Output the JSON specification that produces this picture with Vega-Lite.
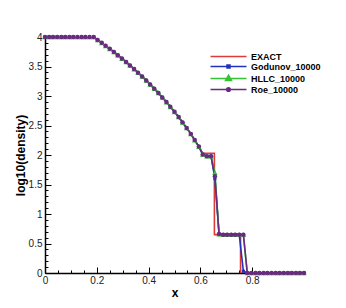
{
  "$schema": "https://vega.github.io/schema/vega-lite/v6.json",
  "width": 259,
  "height": 236,
  "autosize": {"type": "none"},
  "padding": {"left": 45, "top": 37, "right": 42, "bottom": 35},
  "background": "white",
  "config": {
    "view": {"stroke": null},
    "font": "Liberation Sans",
    "axis": {"grid": false, "domainColor": "black", "domainWidth": 1.5, "tickColor": "black", "tickWidth": 1, "labelFont": "Liberation Sans", "labelFontSize": 10, "labelColor": "#222", "titleFont": "Liberation Sans", "titleFontWeight": "bold", "titleFontSize": 12, "titleColor": "black"}
  },
  "data": {"values": [
    {"s":"EXACT","x":0,"y":4},{"s":"EXACT","x":0.1875,"y":4},{"s":"EXACT","x":0.203,"y":3.951},{"s":"EXACT","x":0.219,"y":3.902},{"s":"EXACT","x":0.234,"y":3.851},{"s":"EXACT","x":0.25,"y":3.799},{"s":"EXACT","x":0.266,"y":3.746},{"s":"EXACT","x":0.281,"y":3.691},{"s":"EXACT","x":0.297,"y":3.635},{"s":"EXACT","x":0.313,"y":3.577},{"s":"EXACT","x":0.328,"y":3.518},{"s":"EXACT","x":0.344,"y":3.457},{"s":"EXACT","x":0.359,"y":3.395},{"s":"EXACT","x":0.375,"y":3.331},{"s":"EXACT","x":0.391,"y":3.264},{"s":"EXACT","x":0.406,"y":3.196},{"s":"EXACT","x":0.422,"y":3.125},{"s":"EXACT","x":0.438,"y":3.052},{"s":"EXACT","x":0.453,"y":2.976},{"s":"EXACT","x":0.469,"y":2.898},{"s":"EXACT","x":0.484,"y":2.817},{"s":"EXACT","x":0.5,"y":2.733},{"s":"EXACT","x":0.516,"y":2.645},{"s":"EXACT","x":0.531,"y":2.553},{"s":"EXACT","x":0.547,"y":2.458},{"s":"EXACT","x":0.563,"y":2.358},{"s":"EXACT","x":0.578,"y":2.253},{"s":"EXACT","x":0.594,"y":2.143},{"s":"EXACT","x":0.609,"y":2.03},{"s":"EXACT","x":0.654,"y":2.03},{"s":"EXACT","x":0.6541,"y":0.65},{"s":"EXACT","x":0.755,"y":0.65},{"s":"EXACT","x":0.7551,"y":0},{"s":"EXACT","x":1,"y":0},

    {"s":"Godunov_10000","x":0,"y":4},{"s":"Godunov_10000","x":0.016,"y":4},{"s":"Godunov_10000","x":0.031,"y":4},{"s":"Godunov_10000","x":0.047,"y":4},{"s":"Godunov_10000","x":0.063,"y":4},{"s":"Godunov_10000","x":0.078,"y":4},{"s":"Godunov_10000","x":0.094,"y":4},{"s":"Godunov_10000","x":0.109,"y":4},{"s":"Godunov_10000","x":0.125,"y":4},{"s":"Godunov_10000","x":0.141,"y":4},{"s":"Godunov_10000","x":0.156,"y":4},{"s":"Godunov_10000","x":0.172,"y":4},{"s":"Godunov_10000","x":0.188,"y":4},{"s":"Godunov_10000","x":0.203,"y":3.951},{"s":"Godunov_10000","x":0.219,"y":3.902},{"s":"Godunov_10000","x":0.234,"y":3.851},{"s":"Godunov_10000","x":0.25,"y":3.799},{"s":"Godunov_10000","x":0.266,"y":3.746},{"s":"Godunov_10000","x":0.281,"y":3.691},{"s":"Godunov_10000","x":0.297,"y":3.635},{"s":"Godunov_10000","x":0.313,"y":3.577},{"s":"Godunov_10000","x":0.328,"y":3.518},{"s":"Godunov_10000","x":0.344,"y":3.457},{"s":"Godunov_10000","x":0.359,"y":3.395},{"s":"Godunov_10000","x":0.375,"y":3.331},{"s":"Godunov_10000","x":0.391,"y":3.264},{"s":"Godunov_10000","x":0.406,"y":3.196},{"s":"Godunov_10000","x":0.422,"y":3.125},{"s":"Godunov_10000","x":0.438,"y":3.052},{"s":"Godunov_10000","x":0.453,"y":2.976},{"s":"Godunov_10000","x":0.469,"y":2.898},{"s":"Godunov_10000","x":0.484,"y":2.817},{"s":"Godunov_10000","x":0.5,"y":2.733},{"s":"Godunov_10000","x":0.516,"y":2.645},{"s":"Godunov_10000","x":0.531,"y":2.553},{"s":"Godunov_10000","x":0.547,"y":2.458},{"s":"Godunov_10000","x":0.563,"y":2.358},{"s":"Godunov_10000","x":0.578,"y":2.253},{"s":"Godunov_10000","x":0.594,"y":2.143},{"s":"Godunov_10000","x":0.609,"y":2.01},{"s":"Godunov_10000","x":0.625,"y":1.98},{"s":"Godunov_10000","x":0.641,"y":1.98},{"s":"Godunov_10000","x":0.656,"y":1.6},{"s":"Godunov_10000","x":0.672,"y":0.66},{"s":"Godunov_10000","x":0.688,"y":0.65},{"s":"Godunov_10000","x":0.703,"y":0.65},{"s":"Godunov_10000","x":0.719,"y":0.65},{"s":"Godunov_10000","x":0.734,"y":0.65},{"s":"Godunov_10000","x":0.75,"y":0.65},{"s":"Godunov_10000","x":0.766,"y":0.03},{"s":"Godunov_10000","x":0.781,"y":0},{"s":"Godunov_10000","x":0.797,"y":0},{"s":"Godunov_10000","x":0.813,"y":0},{"s":"Godunov_10000","x":0.828,"y":0},{"s":"Godunov_10000","x":0.844,"y":0},{"s":"Godunov_10000","x":0.859,"y":0},{"s":"Godunov_10000","x":0.875,"y":0},{"s":"Godunov_10000","x":0.891,"y":0},{"s":"Godunov_10000","x":0.906,"y":0},{"s":"Godunov_10000","x":0.922,"y":0},{"s":"Godunov_10000","x":0.938,"y":0},{"s":"Godunov_10000","x":0.953,"y":0},{"s":"Godunov_10000","x":0.969,"y":0},{"s":"Godunov_10000","x":0.984,"y":0},{"s":"Godunov_10000","x":1,"y":0},

    {"s":"HLLC_10000","x":0,"y":4},{"s":"HLLC_10000","x":0.016,"y":4},{"s":"HLLC_10000","x":0.031,"y":4},{"s":"HLLC_10000","x":0.047,"y":4},{"s":"HLLC_10000","x":0.063,"y":4},{"s":"HLLC_10000","x":0.078,"y":4},{"s":"HLLC_10000","x":0.094,"y":4},{"s":"HLLC_10000","x":0.109,"y":4},{"s":"HLLC_10000","x":0.125,"y":4},{"s":"HLLC_10000","x":0.141,"y":4},{"s":"HLLC_10000","x":0.156,"y":4},{"s":"HLLC_10000","x":0.172,"y":4},{"s":"HLLC_10000","x":0.188,"y":4},{"s":"HLLC_10000","x":0.203,"y":3.951},{"s":"HLLC_10000","x":0.219,"y":3.902},{"s":"HLLC_10000","x":0.234,"y":3.851},{"s":"HLLC_10000","x":0.25,"y":3.799},{"s":"HLLC_10000","x":0.266,"y":3.746},{"s":"HLLC_10000","x":0.281,"y":3.691},{"s":"HLLC_10000","x":0.297,"y":3.635},{"s":"HLLC_10000","x":0.313,"y":3.577},{"s":"HLLC_10000","x":0.328,"y":3.518},{"s":"HLLC_10000","x":0.344,"y":3.457},{"s":"HLLC_10000","x":0.359,"y":3.395},{"s":"HLLC_10000","x":0.375,"y":3.331},{"s":"HLLC_10000","x":0.391,"y":3.264},{"s":"HLLC_10000","x":0.406,"y":3.196},{"s":"HLLC_10000","x":0.422,"y":3.125},{"s":"HLLC_10000","x":0.438,"y":3.052},{"s":"HLLC_10000","x":0.453,"y":2.976},{"s":"HLLC_10000","x":0.469,"y":2.898},{"s":"HLLC_10000","x":0.484,"y":2.817},{"s":"HLLC_10000","x":0.5,"y":2.733},{"s":"HLLC_10000","x":0.516,"y":2.645},{"s":"HLLC_10000","x":0.531,"y":2.553},{"s":"HLLC_10000","x":0.547,"y":2.458},{"s":"HLLC_10000","x":0.563,"y":2.358},{"s":"HLLC_10000","x":0.578,"y":2.253},{"s":"HLLC_10000","x":0.594,"y":2.143},{"s":"HLLC_10000","x":0.609,"y":2.01},{"s":"HLLC_10000","x":0.625,"y":1.98},{"s":"HLLC_10000","x":0.641,"y":1.98},{"s":"HLLC_10000","x":0.656,"y":1.7},{"s":"HLLC_10000","x":0.672,"y":0.66},{"s":"HLLC_10000","x":0.688,"y":0.65},{"s":"HLLC_10000","x":0.703,"y":0.65},{"s":"HLLC_10000","x":0.719,"y":0.65},{"s":"HLLC_10000","x":0.734,"y":0.65},{"s":"HLLC_10000","x":0.75,"y":0.65},{"s":"HLLC_10000","x":0.766,"y":0.65},{"s":"HLLC_10000","x":0.781,"y":0},{"s":"HLLC_10000","x":0.797,"y":0},{"s":"HLLC_10000","x":0.813,"y":0},{"s":"HLLC_10000","x":0.828,"y":0},{"s":"HLLC_10000","x":0.844,"y":0},{"s":"HLLC_10000","x":0.859,"y":0},{"s":"HLLC_10000","x":0.875,"y":0},{"s":"HLLC_10000","x":0.891,"y":0},{"s":"HLLC_10000","x":0.906,"y":0},{"s":"HLLC_10000","x":0.922,"y":0},{"s":"HLLC_10000","x":0.938,"y":0},{"s":"HLLC_10000","x":0.953,"y":0},{"s":"HLLC_10000","x":0.969,"y":0},{"s":"HLLC_10000","x":0.984,"y":0},{"s":"HLLC_10000","x":1,"y":0},

    {"s":"Roe_10000","x":0,"y":4},{"s":"Roe_10000","x":0.016,"y":4},{"s":"Roe_10000","x":0.031,"y":4},{"s":"Roe_10000","x":0.047,"y":4},{"s":"Roe_10000","x":0.063,"y":4},{"s":"Roe_10000","x":0.078,"y":4},{"s":"Roe_10000","x":0.094,"y":4},{"s":"Roe_10000","x":0.109,"y":4},{"s":"Roe_10000","x":0.125,"y":4},{"s":"Roe_10000","x":0.141,"y":4},{"s":"Roe_10000","x":0.156,"y":4},{"s":"Roe_10000","x":0.172,"y":4},{"s":"Roe_10000","x":0.188,"y":4},{"s":"Roe_10000","x":0.203,"y":3.951},{"s":"Roe_10000","x":0.219,"y":3.902},{"s":"Roe_10000","x":0.234,"y":3.851},{"s":"Roe_10000","x":0.25,"y":3.799},{"s":"Roe_10000","x":0.266,"y":3.746},{"s":"Roe_10000","x":0.281,"y":3.691},{"s":"Roe_10000","x":0.297,"y":3.635},{"s":"Roe_10000","x":0.313,"y":3.577},{"s":"Roe_10000","x":0.328,"y":3.518},{"s":"Roe_10000","x":0.344,"y":3.457},{"s":"Roe_10000","x":0.359,"y":3.395},{"s":"Roe_10000","x":0.375,"y":3.331},{"s":"Roe_10000","x":0.391,"y":3.264},{"s":"Roe_10000","x":0.406,"y":3.196},{"s":"Roe_10000","x":0.422,"y":3.125},{"s":"Roe_10000","x":0.438,"y":3.052},{"s":"Roe_10000","x":0.453,"y":2.976},{"s":"Roe_10000","x":0.469,"y":2.898},{"s":"Roe_10000","x":0.484,"y":2.817},{"s":"Roe_10000","x":0.5,"y":2.733},{"s":"Roe_10000","x":0.516,"y":2.645},{"s":"Roe_10000","x":0.531,"y":2.553},{"s":"Roe_10000","x":0.547,"y":2.458},{"s":"Roe_10000","x":0.563,"y":2.358},{"s":"Roe_10000","x":0.578,"y":2.253},{"s":"Roe_10000","x":0.594,"y":2.143},{"s":"Roe_10000","x":0.609,"y":2.01},{"s":"Roe_10000","x":0.625,"y":1.98},{"s":"Roe_10000","x":0.641,"y":1.98},{"s":"Roe_10000","x":0.656,"y":1.64},{"s":"Roe_10000","x":0.672,"y":0.66},{"s":"Roe_10000","x":0.688,"y":0.65},{"s":"Roe_10000","x":0.703,"y":0.65},{"s":"Roe_10000","x":0.719,"y":0.65},{"s":"Roe_10000","x":0.734,"y":0.65},{"s":"Roe_10000","x":0.75,"y":0.65},{"s":"Roe_10000","x":0.766,"y":0.65},{"s":"Roe_10000","x":0.781,"y":0},{"s":"Roe_10000","x":0.797,"y":0},{"s":"Roe_10000","x":0.813,"y":0},{"s":"Roe_10000","x":0.828,"y":0},{"s":"Roe_10000","x":0.844,"y":0},{"s":"Roe_10000","x":0.859,"y":0},{"s":"Roe_10000","x":0.875,"y":0},{"s":"Roe_10000","x":0.891,"y":0},{"s":"Roe_10000","x":0.906,"y":0},{"s":"Roe_10000","x":0.922,"y":0},{"s":"Roe_10000","x":0.938,"y":0},{"s":"Roe_10000","x":0.953,"y":0},{"s":"Roe_10000","x":0.969,"y":0},{"s":"Roe_10000","x":0.984,"y":0},{"s":"Roe_10000","x":1,"y":0}
  ]},
  "encoding": {
    "x": {"field": "x", "type": "quantitative", "title": "x",
      "scale": {"domain": [0, 1], "nice": false, "zero": false},
      "axis": {"values": [0,0.05,0.1,0.15,0.2,0.25,0.3,0.35,0.4,0.45,0.5,0.55,0.6,0.65,0.7,0.75,0.8],
        "labelExpr": "abs(datum.value*5-round(datum.value*5))<0.000001 ? format(datum.value,'~g') : ''",
        "tickSize": {"condition": {"test": "abs(datum.value*5-round(datum.value*5))<0.000001", "value": -6}, "value": -3},
        "labelPadding": 8, "titlePadding": -1, "labelFlush": false, "labelOverlap": false}},
    "y": {"field": "y", "type": "quantitative", "title": "log10(density)",
      "scale": {"domain": [0, 4], "nice": false},
      "axis": {"values": [0,0.1,0.2,0.3,0.4,0.5,0.6,0.7,0.8,0.9,1,1.1,1.2,1.3,1.4,1.5,1.6,1.7,1.8,1.9,2,2.1,2.2,2.3,2.4,2.5,2.6,2.7,2.8,2.9,3,3.1,3.2,3.3,3.4,3.5,3.6,3.7,3.8,3.9,4],
        "labelExpr": "abs(datum.value*2-round(datum.value*2))<0.000001 ? format(datum.value,'~g') : ''",
        "tickSize": {"condition": {"test": "abs(datum.value*2-round(datum.value*2))<0.000001", "value": -6}, "value": -3},
        "labelPadding": 9, "titlePadding": 1, "labelFlush": false, "labelOverlap": false}}
  },
  "layer": [
    {"mark": {"type": "line", "strokeWidth": 1.6, "clip": true},
     "encoding": {"color": {"field": "s", "type": "nominal",
       "scale": {"domain": ["EXACT","Godunov_10000","HLLC_10000","Roe_10000"], "range": ["#dd3a3a","#2233bb","#33c433","#6a2a80"]},
       "legend": {"title": null, "orient": "none", "legendX": 179, "legendY": 15, "padding": 0,
         "symbolSize": 36, "labelOffset": 18, "labelFont": "Liberation Sans", "labelFontSize": 9, "labelFontWeight": "bold", "labelColor": "black", "rowPadding": 0,
         "encode": {"symbols": {"update": {
           "shape": {"signal": "datum.value==='EXACT' ? 'M-6,0L6,0' : datum.value==='Godunov_10000' ? 'M-6,0L6,0M-0.5,-0.5L0.5,-0.5L0.5,0.5L-0.5,0.5Z' : datum.value==='HLLC_10000' ? 'M-6,0L6,0M0,-1.1L1,0.7L-1,0.7Z' : 'M-6,0L6,0M-0.6,0A0.6,0.6 0 1,0 0.6,0A0.6,0.6 0 1,0 -0.6,0Z'"},
           "fill": {"scale": "color", "field": "value"},
           "stroke": {"scale": "color", "field": "value"},
           "strokeWidth": {"value": 1.5},
           "opacity": {"value": 1}}}}}}}},
    {"transform": [{"filter": "datum.s==='Godunov_10000'"}],
     "mark": {"type": "point", "shape": "square", "filled": true, "size": 10, "color": "#2233bb", "opacity": 1}},
    {"transform": [{"filter": "datum.s==='HLLC_10000'"}],
     "mark": {"type": "point", "shape": "triangle-up", "filled": true, "size": 30, "color": "#33c433", "opacity": 1}},
    {"transform": [{"filter": "datum.s==='Roe_10000'"}],
     "mark": {"type": "point", "shape": "circle", "filled": true, "size": 20, "color": "#6a2a80", "opacity": 1}}
  ]
}
